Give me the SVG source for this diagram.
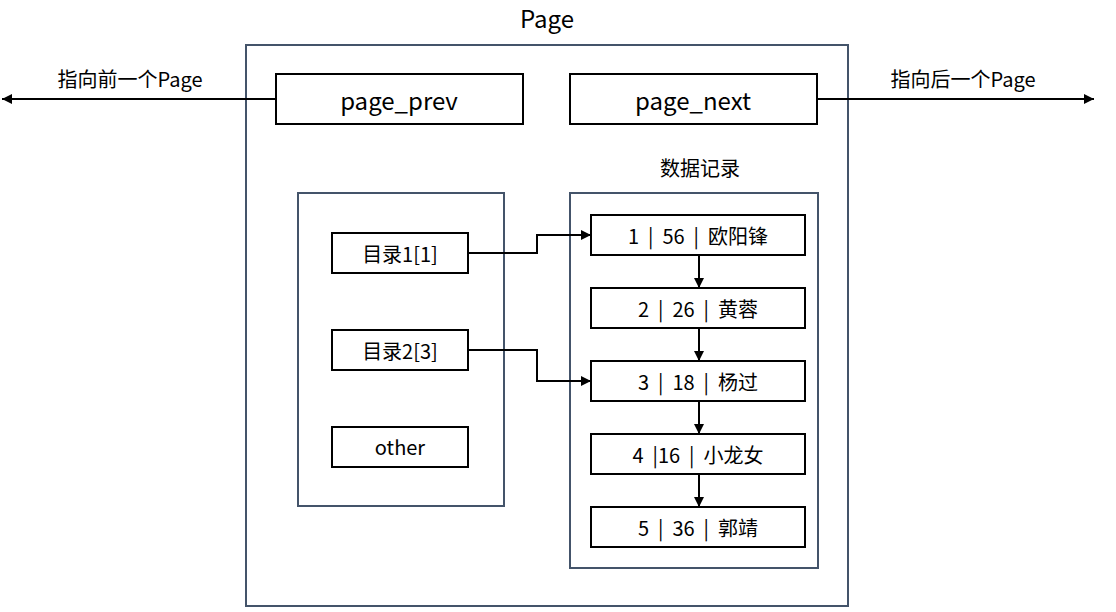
<svg xmlns="http://www.w3.org/2000/svg" width="1116" height="612" viewBox="0 0 1116 612">
<style>
text{font-family:"Noto Sans CJK SC","Noto Sans",sans-serif;fill:#000;text-anchor:middle;dominant-baseline:central}
.c{fill:none;stroke:#44546a;stroke-width:2}
.b{fill:#fff;stroke:#000;stroke-width:2}
.l{fill:none;stroke:#000;stroke-width:2}
</style>
<defs><marker id="a" viewBox="0 0 10 10" refX="10" refY="5" markerWidth="5" markerHeight="5" orient="auto"><path d="M0,0L10,5L0,10z" fill="#000"/></marker></defs>
<rect width="1116" height="612" fill="#fff"/>
<g id="page"><text x="547" y="17" font-size="24">Page</text><rect class="c" x="246" y="45" width="602" height="561"/></g>
<g id="dir"><rect class="c" x="298" y="193" width="206" height="313"/></g>
<g id="rec"><text x="700" y="167" font-size="20">数据记录</text><rect class="c" x="570" y="193" width="248" height="375"/></g>
<g id="prev"><rect class="b" x="276" y="74" width="247" height="50"/><text x="399" y="99" font-size="24">page_prev</text></g>
<g id="next"><rect class="b" x="570" y="74" width="247" height="50"/><text x="693" y="99" font-size="24">page_next</text></g>
<g id="lblL"><text x="130" y="78" font-size="20">指向前一个Page</text></g>
<g id="lblR"><text x="963" y="78" font-size="20">指向后一个Page</text></g>
<g id="d1"><rect class="b" x="332" y="233" width="136" height="40"/><text x="400" y="253" font-size="20">目录1[1]</text></g>
<g id="d2"><rect class="b" x="332" y="330" width="136" height="40"/><text x="400" y="350" font-size="20">目录2[3]</text></g>
<g id="d3"><rect class="b" x="332" y="427" width="136" height="40"/><text x="400" y="446" font-size="20">other</text></g>
<g id="r1"><rect class="b" x="591" y="215" width="214" height="40"/><text x="698" y="235" font-size="20" xml:space="preserve">1  |  56  |  欧阳锋</text></g>
<g id="r2"><rect class="b" x="591" y="288" width="214" height="40"/><text x="698" y="308" font-size="20" xml:space="preserve">2  |  26  |  黄蓉</text></g>
<g id="r3"><rect class="b" x="591" y="361" width="214" height="40"/><text x="698" y="381" font-size="20" xml:space="preserve">3  |  18  |  杨过</text></g>
<g id="r4"><rect class="b" x="591" y="434" width="214" height="40"/><text x="698" y="454" font-size="20" xml:space="preserve">4  |16  |  小龙女</text></g>
<g id="r5"><rect class="b" x="591" y="507" width="214" height="40"/><text x="698" y="527" font-size="20" xml:space="preserve">5  |  36  |  郭靖</text></g>
<g id="connectors">
<path class="l" d="M276,99H2" marker-end="url(#a)"/>
<path class="l" d="M817,99H1094" marker-end="url(#a)"/>
<path class="l" d="M468,253H537V235H591" marker-end="url(#a)"/>
<path class="l" d="M468,350H537V381H591" marker-end="url(#a)"/>
<path class="l" d="M699,255V288" marker-end="url(#a)"/>
<path class="l" d="M699,328V361" marker-end="url(#a)"/>
<path class="l" d="M699,401V434" marker-end="url(#a)"/>
<path class="l" d="M699,474V507" marker-end="url(#a)"/>
</g>
</svg>
